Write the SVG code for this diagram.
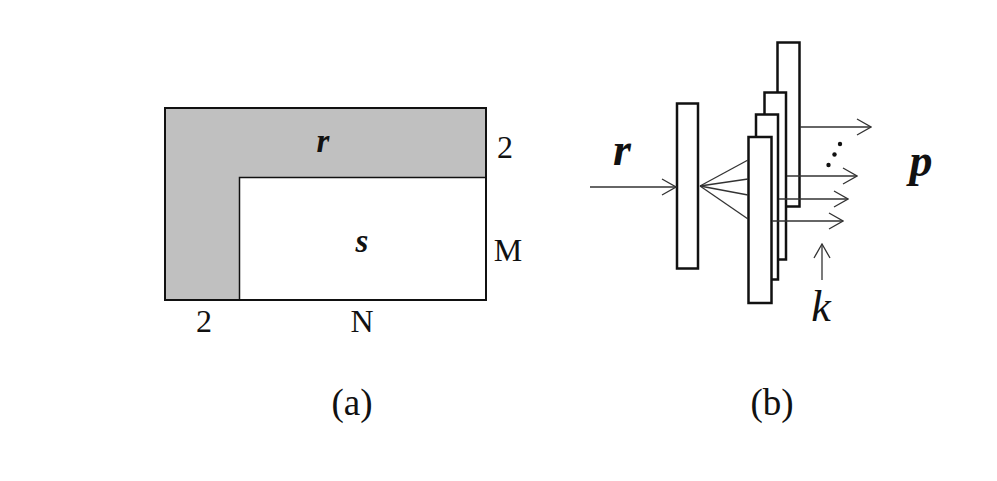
<svg xmlns="http://www.w3.org/2000/svg" width="997" height="481" viewBox="0 0 997 481">
<defs>
<style>
.t{font-family:"Liberation Serif","Times New Roman",serif;fill:#111}
.bi{font-weight:bold;font-style:italic}
.bar{fill:#fff;stroke:#111;stroke-width:2.5}
.ln{stroke:#333;stroke-width:1.3;fill:none}
</style>
<marker id="ah" viewBox="0 0 16 18" refX="15" refY="9" markerWidth="16" markerHeight="18" markerUnits="userSpaceOnUse" orient="auto">
<path d="M1,1 L15,9 L1,17" fill="none" stroke="#333" stroke-width="1.3"/>
</marker>
</defs>
<rect width="997" height="481" fill="#fff"/>
<g id="panel-a">
<rect x="165" y="108" width="321" height="192" fill="#c0c0c0" stroke="#111" stroke-width="2"/>
<rect x="239.5" y="177.5" width="246.5" height="122.5" fill="#fff" stroke="#111" stroke-width="1.5"/>
<rect x="165" y="108" width="321" height="192" fill="none" stroke="#111" stroke-width="2"/>
<text class="t bi" x="323" y="152" font-size="33" text-anchor="middle">r</text>
<text class="t bi" x="362" y="252" font-size="33" text-anchor="middle">s</text>
<text class="t" x="505" y="158" font-size="32" text-anchor="middle">2</text>
<text class="t" x="508" y="261" font-size="32" text-anchor="middle">M</text>
<text class="t" x="204" y="332" font-size="32" text-anchor="middle">2</text>
<text class="t" x="362" y="332" font-size="32" text-anchor="middle">N</text>
<text class="t" x="352" y="415" font-size="37" text-anchor="middle">(a)</text>
</g>
<g id="panel-b">
<g id="input-bar"><rect class="bar" x="677" y="103.5" width="21" height="165"/></g>
<g id="bar-4"><rect class="bar" x="777.5" y="42.5" width="22" height="164"/></g>
<g id="bar-3"><rect class="bar" x="764.5" y="92.5" width="21.5" height="167"/></g>
<g id="bar-2"><rect class="bar" x="756" y="114.5" width="22" height="165"/></g>
<g id="bar-1"><rect class="bar" x="748.5" y="137" width="23" height="166"/></g>
<g id="connectors">
<line class="ln" x1="590" y1="187" x2="676" y2="187" marker-end="url(#ah)"/>
<line class="ln" x1="700" y1="186" x2="748" y2="160"/>
<line class="ln" x1="700" y1="186" x2="748" y2="179"/>
<line class="ln" x1="700" y1="186" x2="748" y2="195"/>
<line class="ln" x1="700" y1="186" x2="748" y2="219"/>
<line class="ln" x1="800" y1="127" x2="871" y2="127" marker-end="url(#ah)"/>
<line class="ln" x1="787" y1="176" x2="857" y2="176" marker-end="url(#ah)"/>
<line class="ln" x1="779" y1="199" x2="848" y2="199" marker-end="url(#ah)"/>
<line class="ln" x1="772" y1="221" x2="843" y2="221" marker-end="url(#ah)"/>
<line class="ln" x1="822" y1="280" x2="822" y2="244" marker-end="url(#ah)"/>
</g>
<circle cx="840" cy="144" r="2.2" fill="#111"/>
<circle cx="834.5" cy="154.5" r="2.2" fill="#111"/>
<circle cx="828.5" cy="165" r="2.2" fill="#111"/>
<text class="t bi" x="622" y="165" font-size="46" text-anchor="middle">r</text>
<text class="t bi" x="921" y="176" font-size="46" text-anchor="middle">p</text>
<text class="t" x="821" y="321" font-size="44" font-style="italic" text-anchor="middle">k</text>
<text class="t" x="772" y="415" font-size="37" text-anchor="middle">(b)</text>
</g>
</svg>
